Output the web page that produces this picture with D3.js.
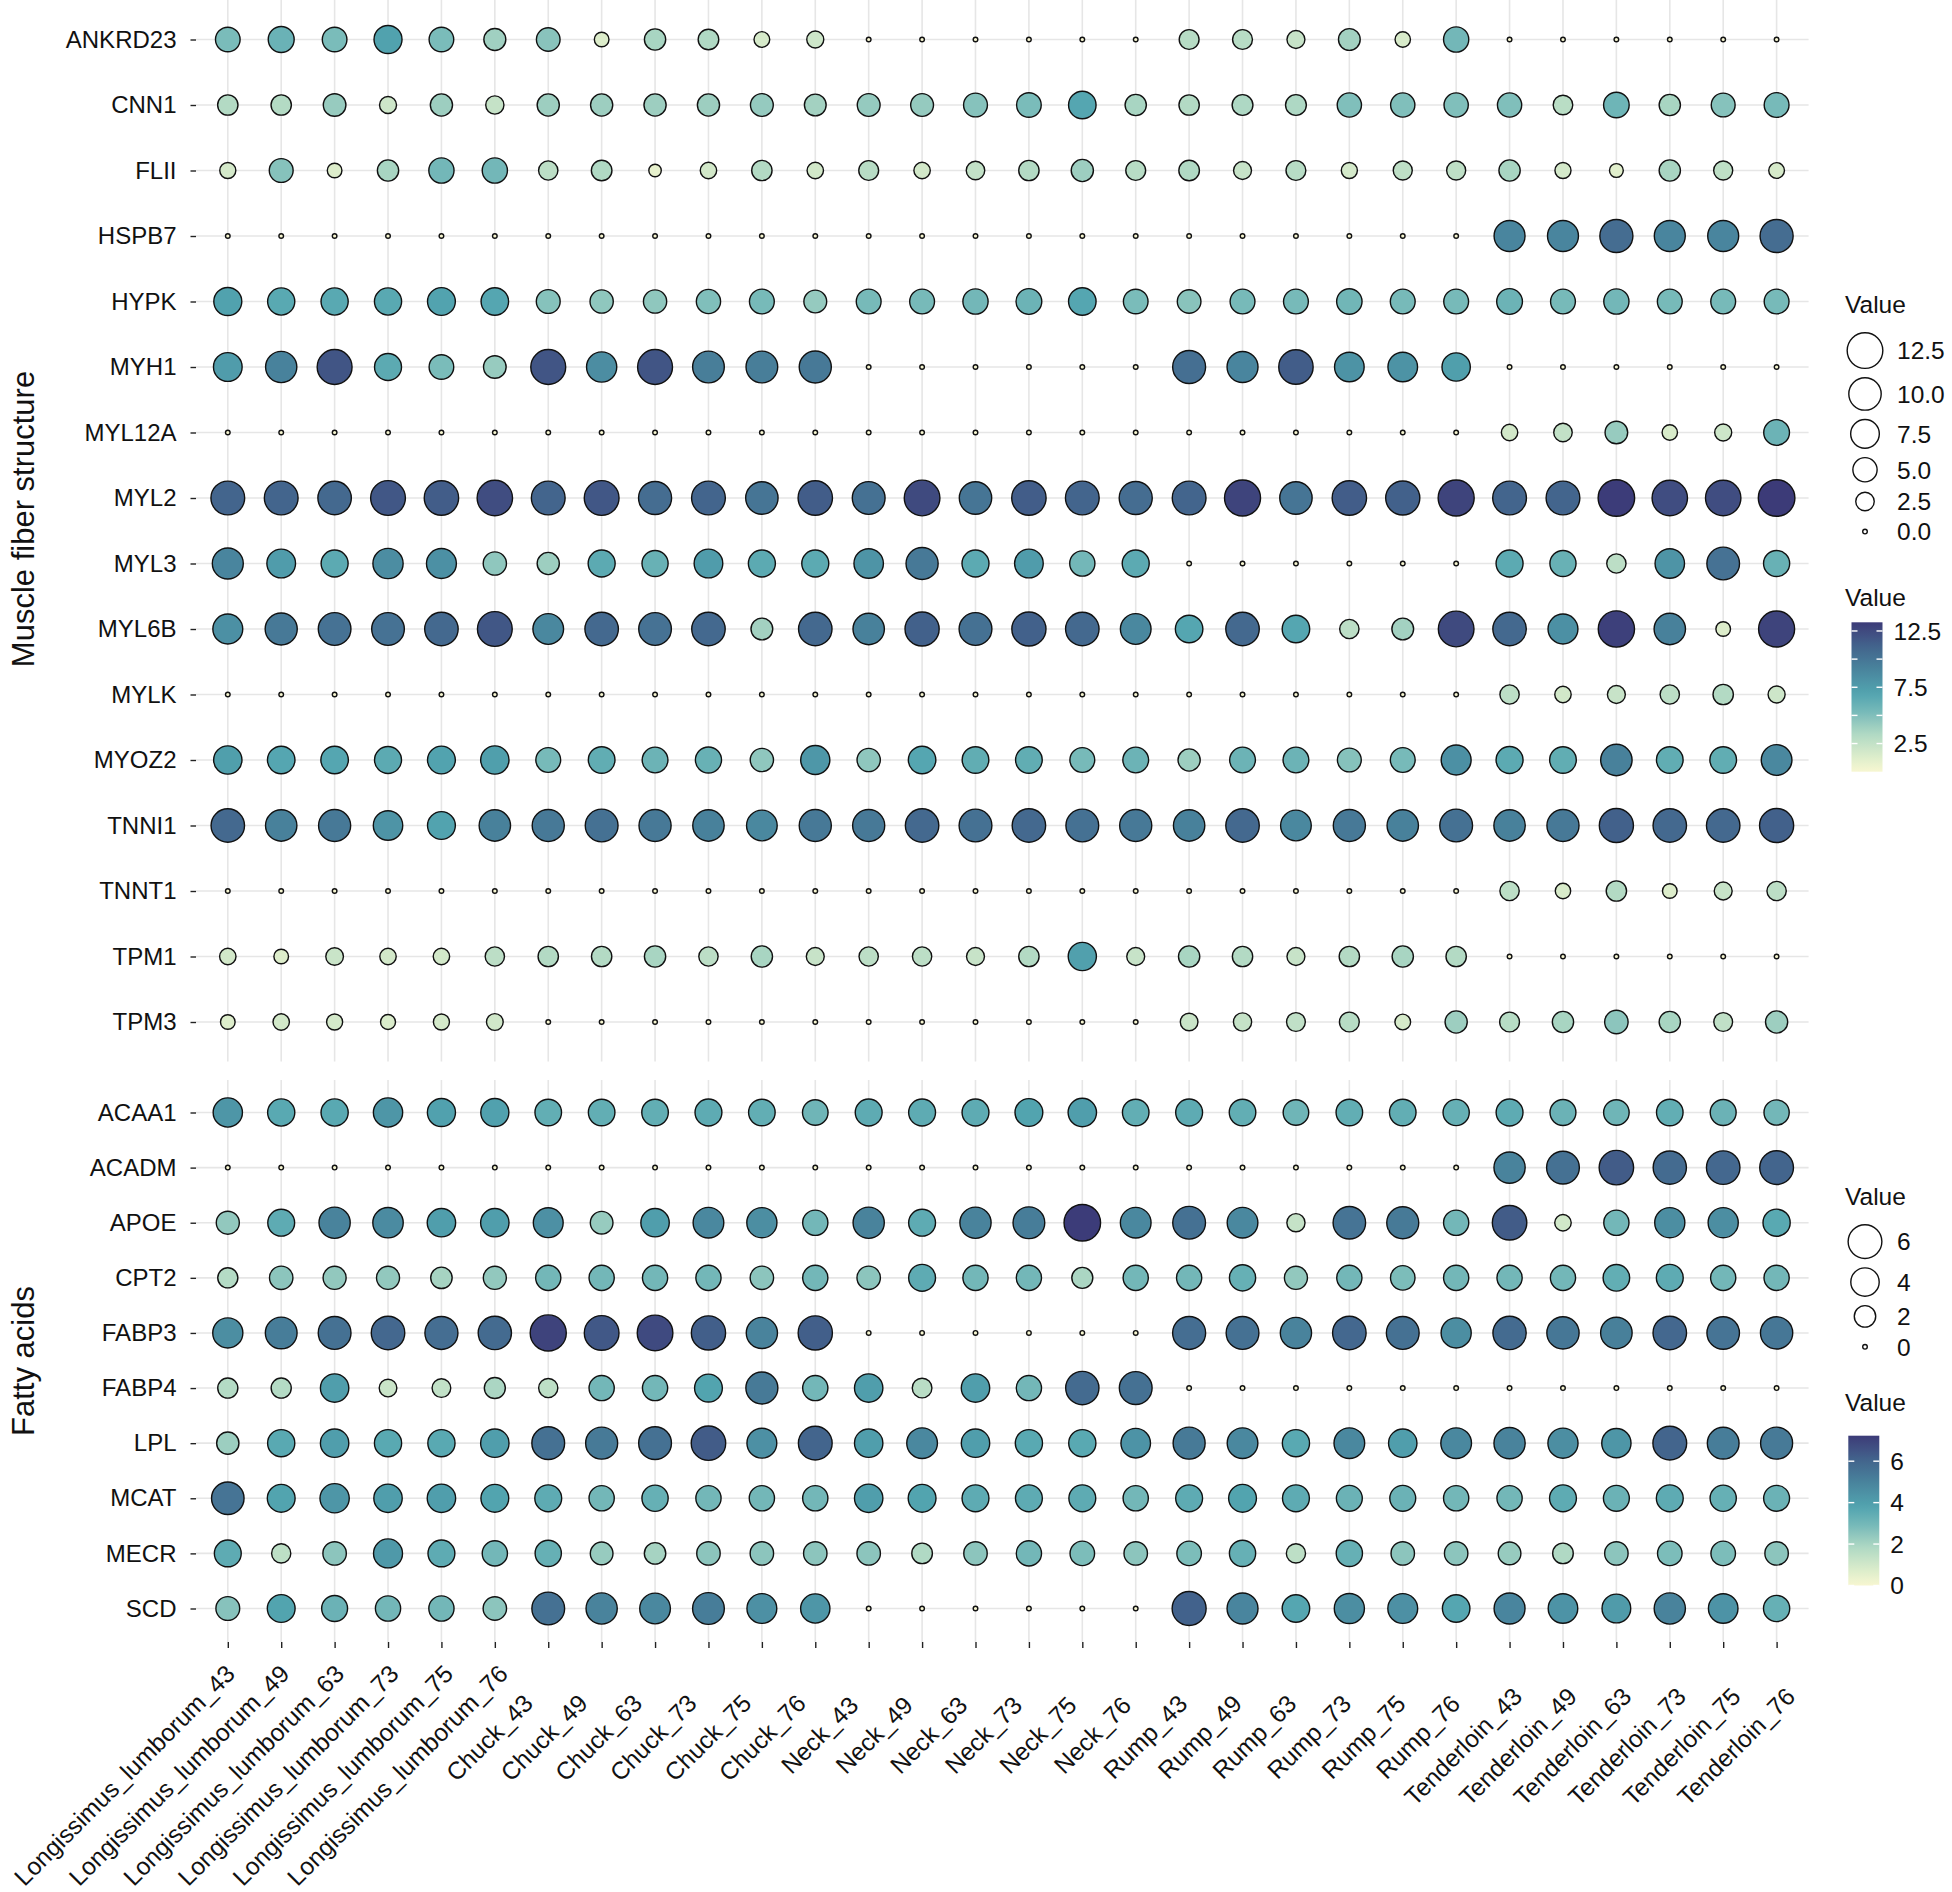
<!DOCTYPE html>
<html><head><meta charset="utf-8">
<script src="https://cdnjs.cloudflare.com/ajax/libs/d3/7.8.5/d3.min.js"></script>
<style>
body{margin:0;background:#fff}
svg{display:block}
text{font-family:"Liberation Sans",Arial,Helvetica,sans-serif;fill:#111}
</style>
</head><body>
<svg id="chart" width="1952" height="1892"></svg>
<script>
// ---------------- DATA ----------------
const samples = ["Longissimus_lumborum_43","Longissimus_lumborum_49","Longissimus_lumborum_63","Longissimus_lumborum_73","Longissimus_lumborum_75","Longissimus_lumborum_76",
  "Chuck_43","Chuck_49","Chuck_63","Chuck_73","Chuck_75","Chuck_76",
  "Neck_43","Neck_49","Neck_63","Neck_73","Neck_75","Neck_76",
  "Rump_43","Rump_49","Rump_63","Rump_73","Rump_75","Rump_76",
  "Tenderloin_43","Tenderloin_49","Tenderloin_63","Tenderloin_73","Tenderloin_75","Tenderloin_76"];

const muscleGenes = ["ANKRD23","CNN1","FLII","HSPB7","HYPK","MYH1","MYL12A","MYL2","MYL3","MYL6B","MYLK","MYOZ2","TNNI1","TNNT1","TPM1","TPM3"];
const fattyGenes = ["ACAA1","ACADM","APOE","CPT2","FABP3","FABP4","LPL","MCAT","MECR","SCD"];

const muscleTitle = "Muscle fiber structure";
const fattyTitle = "Fatty acids";

// one row per gene, one value per sample (same order as samples)
const muscleValues = [
  [5.2,5.9,5.2,7.1,5.2,3.9, 4.7,1.3,3.6,3.3,1.6,2.0, 0,0,0,0,0,0, 3.0,3.0,2.3,3.8,1.5,5.5, 0,0,0,0,0,0],
  [3.2,3.2,4.2,2.0,4.0,2.4, 4.0,4.0,4.0,4.0,4.3,3.8, 4.3,4.3,4.8,5.2,6.8,3.6, 3.2,3.4,3.4,5.0,5.0,5.0, 5.0,2.9,5.7,3.6,4.8,5.3],
  [1.7,4.8,1.3,3.6,5.5,5.5, 2.8,3.3,0.8,1.8,3.2,1.8, 3.0,1.8,2.5,3.2,4.0,3.0, 3.3,2.3,3.0,1.7,2.7,2.7, 3.6,1.7,1.1,3.6,2.7,1.6],
  [0,0,0,0,0,0, 0,0,0,0,0,0, 0,0,0,0,0,0, 0,0,0,0,0,0, 9.0,9.0,10.5,9.0,9.0,10.5],
  [7.1,6.6,6.6,6.6,7.0,6.8, 4.8,4.5,4.5,5.0,5.3,4.3, 5.3,5.3,5.5,5.8,6.8,5.2, 4.7,5.3,5.3,5.6,5.3,5.3, 5.8,5.3,5.5,5.3,5.3,5.3],
  [7.5,9.2,11.9,6.5,5.2,4.2, 11.9,8.5,11.9,9.5,9.5,9.8, 0,0,0,0,0,0, 10.4,9.0,11.5,8.1,8.1,7.3, 0,0,0,0,0,0],
  [0,0,0,0,0,0, 0,0,0,0,0,0, 0,0,0,0,0,0, 0,0,0,0,0,0, 1.8,2.5,4.2,1.5,2.0,5.8],
  [11.0,11.0,10.8,11.8,11.5,12.3, 11.0,11.8,10.5,11.0,10.0,11.5, 10.3,12.5,10.0,11.5,11.0,10.5, 11.0,12.8,10.0,11.5,11.3,12.8, 11.0,11.0,13.2,12.3,12.3,13.27],
  [9.0,7.5,6.5,8.5,8.3,4.5, 4.0,6.5,6.0,7.5,6.5,6.5, 8.0,9.8,6.5,7.5,5.5,6.5, 0,0,0,0,0,0, 6.5,6.0,2.8,8.0,10.2,6.0],
  [8.3,9.8,10.2,10.2,10.8,11.8, 8.8,10.8,10.2,10.8,3.8,10.8, 9.3,11.3,10.3,11.3,10.8,8.8, 6.8,10.8,6.8,2.8,3.8,12.5, 10.8,8.3,13.0,9.3,1.3,12.8],
  [0,0,0,0,0,0, 0,0,0,0,0,0, 0,0,0,0,0,0, 0,0,0,0,0,0, 2.8,1.8,2.3,2.8,3.2,2.0],
  [7.3,6.8,6.8,6.5,7.0,7.3, 5.3,6.3,5.8,6.0,4.5,7.8, 4.5,6.8,6.3,6.3,5.3,5.8, 4.0,5.8,5.8,4.8,5.3,8.3, 6.5,6.3,9.3,6.3,6.3,8.8],
  [10.8,9.3,9.8,8.0,7.0,9.3, 9.8,10.3,9.8,9.3,8.8,9.8, 9.8,10.8,10.3,10.8,10.3,9.8, 9.3,10.8,8.8,9.8,9.3,10.3, 9.3,9.8,11.3,10.8,10.8,11.3],
  [0,0,0,0,0,0, 0,0,0,0,0,0, 0,0,0,0,0,0, 0,0,0,0,0,0, 2.8,1.5,3.2,1.3,2.3,2.8],
  [1.8,1.3,2.2,1.8,1.8,2.8, 3.2,3.2,3.6,2.8,3.6,2.3, 2.8,2.8,2.3,3.2,7.2,2.3, 3.6,3.2,2.3,3.2,3.6,3.2, 0,0,0,0,0,0],
  [1.3,1.8,1.7,1.4,1.7,1.9, 0,0,0,0,0,0, 0,0,0,0,0,0, 2.2,2.4,2.6,3.0,1.6,4.0, 3.0,3.6,4.6,3.6,2.6,4.0]
];

const fattyValues = [
  [4.3,3.6,3.6,4.3,3.9,3.9, 3.4,3.4,3.4,3.5,3.4,3.1, 3.5,3.5,3.5,3.8,4.0,3.4, 3.5,3.4,3.1,3.4,3.4,3.3, 3.5,3.2,3.1,3.4,3.2,3.0],
  [0,0,0,0,0,0, 0,0,0,0,0,0, 0,0,0,0,0,0, 0,0,0,0,0,0, 5.0,5.6,6.3,5.8,5.9,6.0],
  [2.4,3.5,5.0,4.7,4.0,4.0, 4.5,2.3,4.0,4.8,4.6,3.0, 5.0,3.5,5.0,5.2,7.2,4.8, 5.6,4.8,1.3,5.5,5.3,3.0, 6.3,1.0,3.0,4.6,4.6,3.6],
  [1.7,2.5,2.4,2.4,2.0,2.4, 3.0,3.0,3.0,3.0,2.5,3.0, 2.5,3.5,3.0,3.0,1.9,3.0, 3.0,3.3,2.4,3.0,2.8,3.0, 3.0,3.0,3.4,3.5,3.0,3.0],
  [4.6,5.2,5.6,5.9,5.7,5.8, 7.0,6.4,6.8,6.2,5.0,6.2, 0,0,0,0,0,0, 5.7,5.6,5.0,5.9,5.6,4.6, 5.8,5.4,5.1,5.9,5.5,5.4],
  [1.7,1.7,4.0,1.2,1.4,1.9, 1.5,3.0,3.0,3.8,5.3,3.0, 4.0,1.6,4.0,3.0,5.8,5.6, 0,0,0,0,0,0, 0,0,0,0,0,0],
  [2.2,3.6,4.0,3.6,3.6,4.0, 5.6,5.3,5.6,6.3,4.5,6.0, 4.0,4.8,4.0,3.6,3.6,4.4, 5.3,4.8,3.6,4.8,4.0,4.8, 5.0,4.6,4.3,6.0,5.2,5.3],
  [5.5,3.8,4.3,4.0,4.0,3.8, 3.5,3.0,3.3,3.0,3.0,3.0, 4.0,3.8,3.5,3.5,3.5,3.0, 3.5,3.8,3.5,3.2,3.2,3.0, 3.0,3.5,3.2,3.5,3.3,3.2],
  [3.5,1.5,2.5,4.2,3.5,3.0, 3.3,2.3,2.0,2.5,2.5,2.5, 2.5,1.8,2.5,3.0,2.8,2.5, 2.8,3.3,1.5,3.3,2.5,2.5, 2.3,1.8,2.5,2.8,2.8,2.5],
  [2.6,3.8,3.2,3.0,3.0,2.5, 5.6,5.0,4.8,5.2,4.5,4.3, 0,0,0,0,0,0, 6.1,4.9,3.7,4.6,4.5,3.7, 4.9,4.4,4.1,5.0,4.4,3.3]
];

const muscleDomainMax = 13.27;
const fattyDomainMax = 7.23;
const muscleSizeBreaks = [12.5, 10, 7.5, 5, 2.5, 0];
const muscleSizeLabels = ["12.5","10.0","7.5","5.0","2.5","0.0"];
const muscleColorBreaks = [12.5, 10, 7.5, 5, 2.5];
const muscleColorLabels = ["12.5","","7.5","","2.5"];
const fattySizeBreaks = [6, 4, 2, 0];
const fattySizeLabels = ["6","4","2","0"];
const fattyColorBreaks = [6, 4, 2, 0];
const fattyColorLabels = ["6","4","2","0"];
const legendTitle = "Value";

const paletteStops = [0, 0.1, 0.25, 0.4, 0.52, 0.7, 0.85, 1];
const paletteColors = ["#f7f6d1","#dcedcb","#b0d9c4","#77bab9","#52a5b0","#48819b","#42618b","#3c3b78"];

// ---------------- DRAW ----------------
const svg = d3.select("#chart");

const x = d3.scalePoint().domain(samples).range([227.8, 1776.6]);
const panelX = [196, 1808.6];
const axisBottomY = 1642;

const panels = [
  {genes: muscleGenes, values: muscleValues, max: muscleDomainMax, yRange: [39.5, 1022], panelY: [0, 1061.5], title: muscleTitle, titleY: 519},
  {genes: fattyGenes, values: fattyValues, max: fattyDomainMax, yRange: [1112.5, 1608.5], panelY: [1080, 1642], title: fattyTitle, titleY: 1361}
];

const colorT = d3.scaleLinear().domain(paletteStops).range(paletteColors).interpolate(d3.interpolateLab).clamp(true);
const SW = 1.4;
function sizeScale(max){ return d3.scaleSqrt().domain([0, max]).range([6, 38]); }

panels.forEach(p => {
  const y = d3.scalePoint().domain(p.genes).range(p.yRange);
  const size = sizeScale(p.max);
  const col = v => colorT(v / p.max);
  const g = svg.append("g");

  // grid
  g.append("g").selectAll("line").data(samples).join("line")
    .attr("x1", d => x(d)).attr("x2", d => x(d))
    .attr("y1", p.panelY[0]).attr("y2", p.panelY[1])
    .attr("stroke", "#e6e6e6").attr("stroke-width", 1.6);
  g.append("g").selectAll("line").data(p.genes).join("line")
    .attr("x1", panelX[0]).attr("x2", panelX[1])
    .attr("y1", d => y(d)).attr("y2", d => y(d))
    .attr("stroke", "#e6e6e6").attr("stroke-width", 1.6);

  // y axis
  const yAxis = d3.axisLeft(y).tickSize(5.5).tickPadding(14);
  const ag = g.append("g").attr("transform", `translate(${panelX[0]},0)`).call(yAxis);
  ag.select(".domain").remove();
  ag.selectAll(".tick line").attr("stroke", "#222").attr("stroke-width", 1.4);
  ag.selectAll(".tick text").attr("font-size", 24).attr("fill", "#111")
    .style("font-family", '"Liberation Sans",Arial,sans-serif');

  // points
  const cells = [];
  p.genes.forEach((gene, i) => samples.forEach((s, j) => cells.push({gene, s, v: p.values[i][j]})));
  g.append("g").selectAll("circle").data(cells).join("circle")
    .attr("cx", d => x(d.s)).attr("cy", d => y(d.gene))
    .attr("r", d => (size(d.v) - SW) / 2)
    .attr("fill", d => col(d.v))
    .attr("stroke", "#111").attr("stroke-width", SW);

  // y title
  svg.append("text")
    .attr("transform", `translate(34,${p.titleY}) rotate(-90)`)
    .attr("text-anchor", "middle").attr("font-size", 31).text(p.title);
});

// x axis (bottom)
const xAxis = d3.axisBottom(x).tickSize(6).tickFormat("");
const xg = svg.append("g").attr("transform", `translate(0,${axisBottomY})`).call(xAxis);
xg.select(".domain").remove();
xg.selectAll(".tick line").attr("stroke", "#222").attr("stroke-width", 1.4);

// rotated labels, justified at ~78% of their length
const hj = 0.78, c45 = Math.SQRT1_2;
const labels = svg.append("g").selectAll("text").data(samples).join("text")
  .attr("text-anchor", "end").attr("font-size", 24.5).text(d => d);
labels.each(function(d) {
  const L = this.getComputedTextLength();
  const t = x(d);
  const ax = t - 38 + 0.022 * (t - x.range()[0]);
  const ay = axisBottomY + 80;
  const px = ax + (1 - hj) * L * c45;
  const py = ay - (1 - hj) * L * c45;
  d3.select(this).attr("transform", `translate(${px},${py}) rotate(-45)`);
});

// ---------------- LEGENDS ----------------
function sizeLegend(top, breaks, labels, max) {
  const size = sizeScale(max);
  const g = svg.append("g");
  g.append("text").attr("x", 1845).attr("y", top).attr("font-size", 24.5).text(legendTitle);
  let yy = top + 15;
  let prevH = null;
  const centers = [];
  breaks.forEach((b, i) => {
    const h = Math.max(30, size(b) + 8);
    if (i === 0) yy += h / 2; else yy += (prevH + h) / 2;
    centers.push(yy); prevH = h;
  });
  breaks.forEach((b, i) => {
    g.append("circle").attr("cx", 1865).attr("cy", centers[i]).attr("r", (size(b) - SW) / 2)
      .attr("fill", "#fff").attr("stroke", "#111").attr("stroke-width", SW);
    g.append("text").attr("x", 1897).attr("y", centers[i]).attr("dy", "0.36em")
      .attr("font-size", 24.5).text(labels[i]);
  });
}
function colorLegend(titleY, barTop, barBottom, barX, max, breaks, labels, id) {
  const g = svg.append("g");
  g.append("text").attr("x", 1845).attr("y", titleY).attr("font-size", 24.5).text(legendTitle);
  const yb = d3.scaleLinear().domain([0, max]).range([barBottom, barTop]);
  const grad = svg.append("defs").append("linearGradient").attr("id", id)
    .attr("x1", 0).attr("y1", 1).attr("x2", 0).attr("y2", 0);
  d3.range(0, 1.0001, 0.05).forEach(t => grad.append("stop").attr("offset", t).attr("stop-color", colorT(t)));
  g.append("rect").attr("x", barX).attr("y", barTop).attr("width", 31).attr("height", barBottom - barTop)
    .attr("fill", `url(#${id})`);
  breaks.forEach((b, i) => {
    const yy = yb(b);
    g.append("line").attr("x1", barX).attr("x2", barX + 6).attr("y1", yy).attr("y2", yy).attr("stroke", "#fff").attr("stroke-width", 1.4);
    g.append("line").attr("x1", barX + 25).attr("x2", barX + 31).attr("y1", yy).attr("y2", yy).attr("stroke", "#fff").attr("stroke-width", 1.4);
    if (labels[i]) g.append("text").attr("x", barX + 42).attr("y", yy).attr("dy", "0.36em").attr("font-size", 24.5).text(labels[i]);
  });
}

sizeLegend(313, muscleSizeBreaks, muscleSizeLabels, muscleDomainMax);
colorLegend(606, 622.3, 771.7, 1851.5, muscleDomainMax, muscleColorBreaks, muscleColorLabels, "gradTop");
sizeLegend(1205, fattySizeBreaks, fattySizeLabels, fattyDomainMax);
colorLegend(1411, 1435.7, 1585.5, 1848.3, fattyDomainMax, fattyColorBreaks, fattyColorLabels, "gradBottom");
</script>
</body></html>
